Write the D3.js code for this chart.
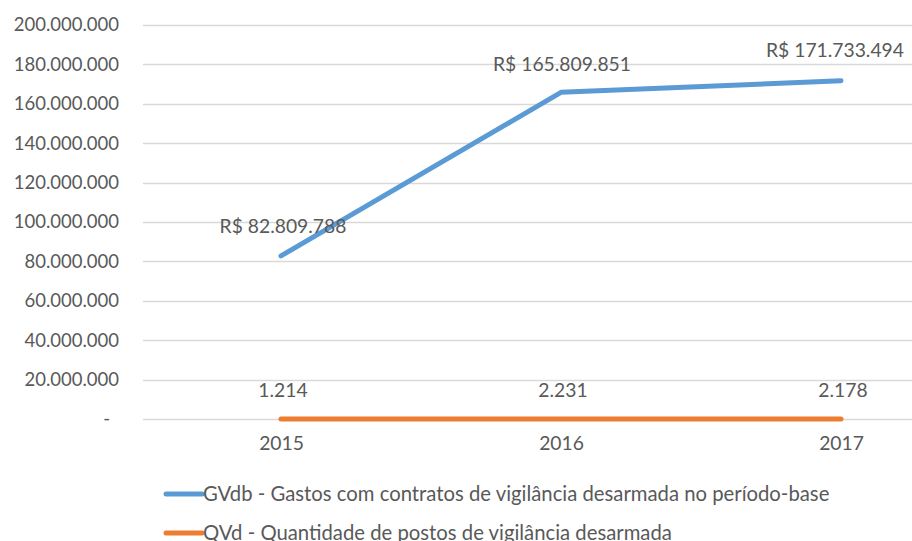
<!DOCTYPE html>
<html>
<head>
<meta charset="utf-8">
<script src="https://cdn.jsdelivr.net/npm/d3@7"></script>
<style>
  html, body { margin: 0; padding: 0; background: #fff; }
  svg { display: block; font-family: Lato, "Open Sans", sans-serif; }
</style>
</head>
<body>
<svg id="chart" width="912" height="541"></svg>
<script>
// Years on the category axis
const years = ["2015", "2016", "2017"];
// GVdb - spending on unarmed security contracts (R$)
const gastos = [82809788, 165809851, 171733494];
// QVd - number of unarmed security posts
const postos = [1214, 2231, 2178];
// Value axis ticks
const yTicks = [0, 20000000, 40000000, 60000000, 80000000, 100000000,
                120000000, 140000000, 160000000, 180000000, 200000000];
const seriesNames = [
  "GVdb - Gastos com contratos de vigilância desarmada no período-base",
  "QVd - Quantidade de postos de vigilância desarmada"
];
const colors = ["#5B9BD5", "#ED7D31"];

const svg = d3.select("#chart");
const textColor = "#595959";
const fontSize = 18.5;
const labelSize = 19.3;
const legendSize = 20.3;

const x = d3.scalePoint().domain(years).range([281, 841]);
const y = d3.scaleLinear().domain([0, 200000000]).range([419, 25]);

const fmt = d3.formatLocale({ decimal: ",", thousands: ".", grouping: [3], currency: ["R$ ", ""] });
const num = fmt.format(",d");

// Horizontal gridlines
svg.append("g")
  .selectAll("line")
  .data(yTicks)
  .join("line")
  .attr("x1", 143).attr("x2", 912)
  .attr("y1", d => Math.round(y(d)) + 0.5)
  .attr("y2", d => Math.round(y(d)) + 0.5)
  .attr("stroke", "#D9D9D9")
  .attr("stroke-width", 1.3);

// Value axis labels
const yAxis = d3.axisLeft(y).tickValues(yTicks).tickSize(0).tickPadding(0)
  .tickFormat(d => d === 0 ? "-" : num(d));
svg.append("g")
  .attr("transform", "translate(119,0)")
  .call(yAxis)
  .call(g => g.select(".domain").remove())
  .call(g => g.selectAll("text")
    .attr("fill", textColor)
    .style("font-size", fontSize + "px")
    .style("font-family", "Lato, 'Open Sans', sans-serif"))
  .call(g => g.selectAll(".tick").filter(d => d === 0).select("text").attr("dx", -9));

// Category axis labels
const xAxis = d3.axisBottom(x).tickSize(0).tickPadding(0);
svg.append("g")
  .attr("transform", "translate(0,436)")
  .call(xAxis)
  .call(g => g.select(".domain").remove())
  .call(g => g.selectAll("text")
    .attr("fill", textColor)
    .style("font-size", labelSize + "px")
    .style("font-family", "Lato, 'Open Sans', sans-serif"));

const line = d3.line().x((d, i) => x(years[i])).y(d => y(d));

// Series lines
[gastos, postos].forEach((vals, k) => {
  svg.append("path")
    .datum(vals)
    .attr("d", line)
    .attr("fill", "none")
    .attr("stroke", colors[k])
    .attr("stroke-width", 5)
    .attr("stroke-linejoin", "round")
    .attr("stroke-linecap", "round");
});

// Data labels for spending
const gastoLabel = d => "R$ " + num(d);
const gastoOffsets = [-23, -21, -24];
svg.append("g")
  .selectAll("text")
  .data(gastos)
  .join("text")
  .attr("x", (d, i) => x(years[i]) + [2, 1, -6][i])
  .attr("y", (d, i) => y(d) + gastoOffsets[i])
  .attr("text-anchor", "middle")
  .attr("fill", textColor)
  .style("font-size", labelSize + "px")
  .text(gastoLabel);

// Data labels for post counts
svg.append("g")
  .selectAll("text")
  .data(postos)
  .join("text")
  .attr("x", (d, i) => x(years[i]) + 2)
  .attr("y", d => y(d) - 22)
  .attr("text-anchor", "middle")
  .attr("fill", textColor)
  .style("font-size", labelSize + "px")
  .text(d => num(d));

// Legend
const legend = svg.append("g");
seriesNames.forEach((name, k) => {
  const ly = 494 + k * 39;
  legend.append("line")
    .attr("x1", 166).attr("x2", 202)
    .attr("y1", ly).attr("y2", ly)
    .attr("stroke", colors[k])
    .attr("stroke-width", 5)
    .attr("stroke-linecap", "round");
  legend.append("text")
    .attr("x", 203)
    .attr("y", ly + 7)
    .attr("fill", textColor)
    .style("font-size", legendSize + "px")
    .text(name);
});
</script>
</body>
</html>
